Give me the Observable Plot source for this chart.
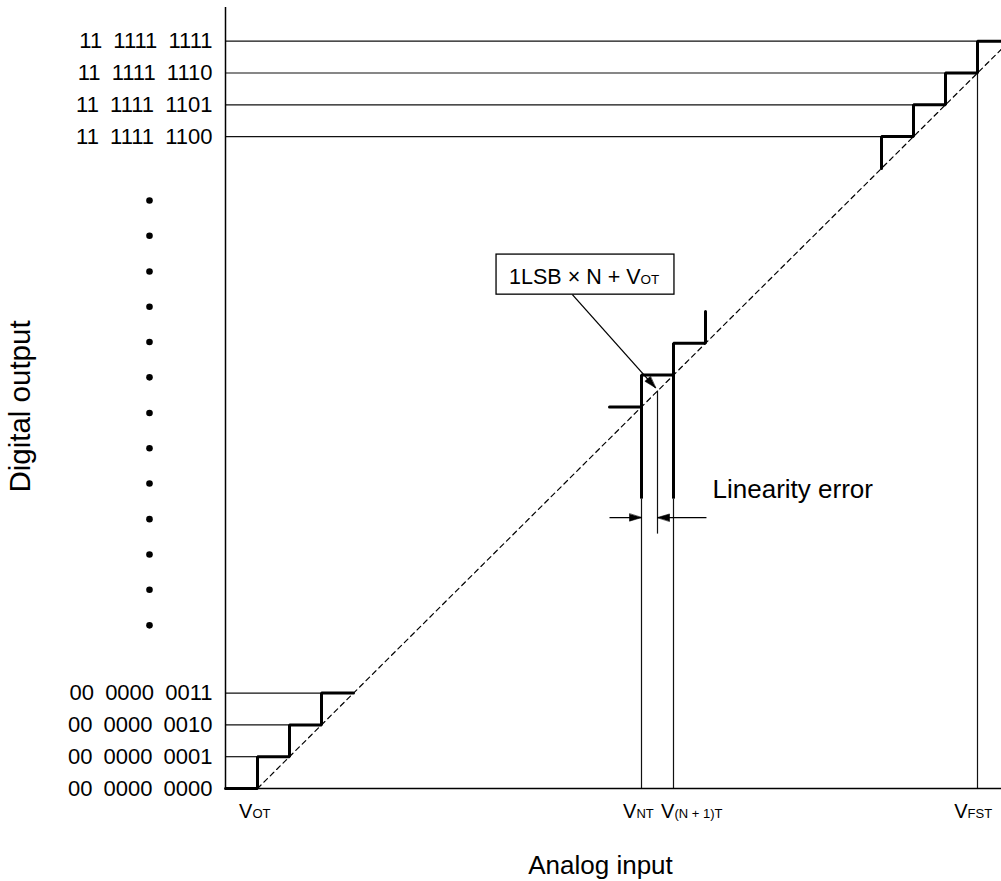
<!DOCTYPE html>
<html><head><meta charset="utf-8">
<script src="https://cdn.jsdelivr.net/npm/d3@7"></script>
<script src="https://cdn.jsdelivr.net/npm/@observablehq/plot@0.6"></script>
<style>
html,body{margin:0;padding:0;background:#fff;}
#chart{width:1001px;height:881px;}
svg g[aria-label="y-axis tick label"] text{word-spacing:5px;}
</style></head><body><div id="chart"></div>
<script>
// Units: x = analog input in LSB, y = digital output code (axis broken between 3 and 20.5)
const yTickValues = [0, 1, 2, 3, 20.5, 21.5, 22.5, 23.5];
const yTickLabels = ["00 0000 0000", "00 0000 0001", "00 0000 0010", "00 0000 0011",
                     "11 1111 1100", "11 1111 1101", "11 1111 1110", "11 1111 1111"];
const ellipsisY = [18.49, 17.38, 16.26, 15.15, 14.04, 12.93, 11.81, 10.70, 9.59, 8.47, 7.36, 6.25, 5.13];
const ellipsisX = -2.375;

// thin code-level lines from the axis to each step
const codeLevels = [1, 2, 3, 20.5, 21.5, 22.5, 23.5];
const codeLevelEnds = [1, 2, 3, 20.5, 21.5, 22.5, 23.5];

// thin transition verticals
const transX = [13, 14, 13.5, 23.5];
const transY1 = [0, 0, 8, 0];
const transY2 = [9.1, 9.1, 12.5, 22.5];

// thick staircases
const stepLowX = [0, 1, 1, 2, 2, 3, 3, 4];
const stepLowY = [0, 0, 1, 1, 2, 2, 3, 3];
const stepMidX = [12, 13, 13, 14, 14, 15, 15];
const stepMidY = [12, 12, 13, 13, 14, 14, 15];
const stepTopX = [20.5, 20.5, 21.5, 21.5, 22.5, 22.5, 23.5, 23.5, 24.25];
const stepTopY = [19.5, 20.5, 20.5, 21.5, 21.5, 22.5, 22.5, 23.5, 23.5];
const thickTransX = [13, 14];
const thickTransY1 = [9.1, 9.1];
const thickTransY2 = [12, 13];

// ideal (dashed) line
const idealX = [1, 24.25];
const idealY = [0, 23.25];

// x-axis labels: main letter + small suffix, split at the given input value
const xLabelAt = [0.84, 12.84, 14.03, 23.19];
const xLabelMain = ["V", "V", "V", "V"];
const xLabelSub = ["OT", "NT", "(N + 1)T", "FST"];

// annotation box
const boxX = [8.47, 14.03];
const boxY = [15.53, 16.79];
const boxTextAt = [12.97, 15.88];
const boxMain = "1LSB \u00d7 N + V";
const boxSub = "OT";
const calloutFrom = [10.84, 15.53];
const calloutTo = [13.44, 12.6];

// linearity error arrows
const errArrowY = 8.52;
const errFrom = [12, 15.03];
const errTo = [13, 13.5];
const errLabel = "Linearity error";
const errLabelAt = [15.22, 9.15];

const xTitle = "Analog input";
const yTitle = "Digital output";

const font = "'Liberation Sans', Arial, Helvetica, sans-serif";
const labelMap = new Map(yTickValues.map((v, i) => [v, yTickLabels[i]]));
const pts = (xs, ys) => xs.map((x, i) => ({x, y: ys[i]}));

// frame geometry (pixels per data unit) used to build filled arrowheads
const W = 1001, H = 881, mL = 225, mR = 0, mT = 7, mB = 93;
const xDomain = [0, 24.25], yDomain = [0, 24.56];
const kx = (W - mL - mR) / (xDomain[1] - xDomain[0]);
const ky = (H - mT - mB) / (yDomain[1] - yDomain[0]);
function head(from, to, id, len = 12, half = 3.6) {
  const dx = (to[0] - from[0]) * kx, dy = -(to[1] - from[1]) * ky;
  const L = Math.hypot(dx, dy), ux = dx / L, uy = dy / L;
  const bx = -ux * len, by = -uy * len;
  const corners = [[0, 0], [bx - uy * half, by + ux * half], [bx + uy * half, by - ux * half]];
  return corners.map(([ox, oy]) => ({id, x: to[0] + ox / kx, y: to[1] - oy / ky}));
}
const arrowSegs = [
  {x1: calloutFrom[0], y1: calloutFrom[1], x2: calloutTo[0], y2: calloutTo[1]},
  ...errFrom.map((f, i) => ({x1: f, y1: errArrowY, x2: errTo[i], y2: errArrowY}))
];
const heads = arrowSegs.flatMap((s, i) => head([s.x1, s.y1], [s.x2, s.y2], i));

const chart = Plot.plot({
  width: W,
  height: H,
  marginLeft: mL,
  marginRight: mR,
  marginTop: mT,
  marginBottom: mB,
  style: {fontFamily: font, fontSize: "22px", color: "#000", background: "#fff"},
  x: {domain: xDomain, axis: null},
  y: {domain: yDomain, axis: null},
  marks: [
    // thin code lines
    Plot.ruleY(codeLevels.map((c, i) => ({y: c, x2: codeLevelEnds[i]})), {y: "y", x1: 0, x2: "x2", stroke: "#111", strokeWidth: 1.2}),
    // thin transition lines
    Plot.ruleX(transX.map((x, i) => ({x, y1: transY1[i], y2: transY2[i]})), {x: "x", y1: "y1", y2: "y2", stroke: "#111", strokeWidth: 1.2}),
    // ideal dashed line
    Plot.line(pts(idealX, idealY), {x: "x", y: "y", stroke: "#000", strokeWidth: 1.2, strokeDasharray: "5,4"}),
    // axes lines
    Plot.ruleX([0], {stroke: "#000", strokeWidth: 1.5}),
    Plot.ruleY([0], {stroke: "#000", strokeWidth: 1.5}),
    // thick staircases
    Plot.line(pts(stepLowX, stepLowY), {x: "x", y: "y", stroke: "#000", strokeWidth: 3, strokeLinejoin: "miter"}),
    Plot.line(pts(stepMidX, stepMidY), {x: "x", y: "y", stroke: "#000", strokeWidth: 3, strokeLinejoin: "miter"}),
    Plot.line(pts(stepTopX, stepTopY), {x: "x", y: "y", stroke: "#000", strokeWidth: 3, strokeLinejoin: "miter"}),
    Plot.ruleX(thickTransX.map((x, i) => ({x, y1: thickTransY1[i], y2: thickTransY2[i]})), {x: "x", y1: "y1", y2: "y2", stroke: "#000", strokeWidth: 3}),
    // y-axis labels
    Plot.axisY(yTickValues, {tickFormat: (d) => labelMap.get(d), tickSize: 0, tickPadding: 13, label: null, fontSize: 22}),
    // ellipsis dots
    Plot.dot(ellipsisY, {x: () => ellipsisX, y: (d) => d, r: 3.3, fill: "#000", stroke: "none"}),
    // x labels
    Plot.text(xLabelAt, {x: (d) => d, y: () => 0, text: (d, i) => xLabelMain[i], textAnchor: "end", lineAnchor: "bottom", dy: 29, fontSize: 20}),
    Plot.text(xLabelAt, {x: (d) => d, y: () => 0, text: (d, i) => xLabelSub[i], textAnchor: "start", lineAnchor: "bottom", dy: 29, fontSize: 13}),
    // annotation box
    Plot.rect([0], {x1: () => boxX[0], x2: () => boxX[1], y1: () => boxY[0], y2: () => boxY[1], fill: "#fff", stroke: "#000", strokeWidth: 1.3}),
    Plot.text([boxMain], {x: () => boxTextAt[0], y: () => boxTextAt[1], textAnchor: "end", lineAnchor: "bottom", fontSize: 21.5}),
    Plot.text([boxSub], {x: () => boxTextAt[0], y: () => boxTextAt[1], textAnchor: "start", lineAnchor: "bottom", fontSize: 13.5}),
    // arrows (shafts + filled heads)
    Plot.link(arrowSegs, {x1: "x1", y1: "y1", x2: "x2", y2: "y2", stroke: "#000", strokeWidth: 1.3}),
    Plot.line(heads, {x: "x", y: "y", z: "id", fill: "#000", stroke: "#000", strokeWidth: 0.6, curve: "linear-closed"}),
    Plot.text([errLabel], {x: () => errLabelAt[0], y: () => errLabelAt[1], textAnchor: "start", lineAnchor: "bottom", fontSize: 26}),
    // axis titles
    Plot.text([xTitle], {frameAnchor: "bottom", dx: -13, dy: 85, lineAnchor: "bottom", fontSize: 26}),
    Plot.text([yTitle], {frameAnchor: "left", textAnchor: "middle", dx: -205, dy: 8.5, rotate: -90, fontSize: 29.5})
  ]
});
document.getElementById("chart").appendChild(chart);
</script>
</body></html>
